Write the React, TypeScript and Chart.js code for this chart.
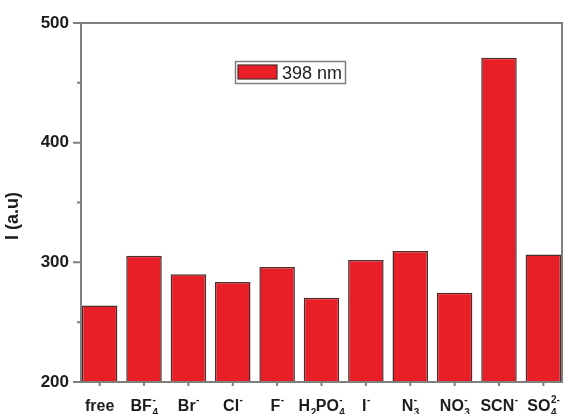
import React, { useEffect, useRef } from "react";
import { Chart, registerables } from "chart.js";

Chart.register(...registerables);

// ---- data ----
type LabelPart = { t: string; sub?: string; sup?: string };
const categories: LabelPart[][] = [
  [{ t: "free" }],
  [{ t: "BF", sub: "4", sup: "-" }],
  [{ t: "Br", sup: "-" }],
  [{ t: "Cl", sup: "-" }],
  [{ t: "F", sup: "-" }],
  [{ t: "H", sub: "2" }, { t: "PO", sub: "4", sup: "-" }],
  [{ t: "I", sup: "-" }],
  [{ t: "N", sub: "3", sup: "-" }],
  [{ t: "NO", sub: "3", sup: "-" }],
  [{ t: "SCN", sup: "-" }],
  [{ t: "SO", sub: "4", sup: "2-" }],
];
const intensity = [264, 305.5, 290, 283.5, 296, 270.5, 302, 309.5, 274.5, 471, 306.5];
const seriesLabel = "398 nm";
const yTitle = "I (a.u)";
const yMin = 200;
const yMax = 500;
const yStep = 100;
const yMinorTicks = [250, 350, 450];

const FONT = "'Liberation Sans', Arial, Helvetica, sans-serif";
const AXIS = "#7f7f7f";
const TEXT = "#1c1c1c";
const RED = "#e81f27";
const BAR_EDGE = "#4e2a2a";

const decorPlugin = {
  id: "decor",
  afterDraw(chart: any) {
    const ctx = chart.ctx as CanvasRenderingContext2D;
    const area = chart.chartArea;
    const xs = chart.scales.x;
    const ys = chart.scales.y;
    ctx.save();

    // frame
    ctx.strokeStyle = AXIS;
    ctx.lineWidth = 2;
    ctx.strokeRect(area.left, area.top, area.right - area.left, area.bottom - area.top);

    // y major ticks
    ctx.beginPath();
    for (let v = yMin; v <= yMax; v += yStep) {
      const y = ys.getPixelForValue(v);
      ctx.moveTo(area.left - 8, y);
      ctx.lineTo(area.left, y);
    }
    // y minor ticks
    for (const v of yMinorTicks) {
      const y = ys.getPixelForValue(v);
      ctx.moveTo(area.left - 4, y);
      ctx.lineTo(area.left, y);
    }
    // x ticks
    for (let i = 0; i < categories.length; i++) {
      const x = xs.getPixelForValue(i);
      ctx.moveTo(x, area.bottom);
      ctx.lineTo(x, area.bottom + 4);
    }
    ctx.stroke();

    // x labels with sub/superscripts
    const mainFont = `bold 16px ${FONT}`;
    const smallFont = `bold 10px ${FONT}`;
    const baseY = area.bottom + 29;
    ctx.fillStyle = TEXT;
    ctx.textBaseline = "alphabetic";
    ctx.textAlign = "left";
    categories.forEach((parts, i) => {
      let total = 0;
      const widths = parts.map((p) => {
        ctx.font = mainFont;
        const wm = ctx.measureText(p.t).width;
        ctx.font = smallFont;
        const ws = Math.max(p.sub ? ctx.measureText(p.sub).width : 0, p.sup ? ctx.measureText(p.sup).width : 0);
        total += wm + ws;
        return [wm, ws];
      });
      let x = xs.getPixelForValue(i) - total / 2;
      parts.forEach((p, k) => {
        ctx.font = mainFont;
        ctx.fillText(p.t, x, baseY);
        x += widths[k][0];
        ctx.font = smallFont;
        if (p.sub) ctx.fillText(p.sub, x + 0.5, baseY + 5);
        if (p.sup) ctx.fillText(p.sup, x + 0.5, baseY - 8);
        x += widths[k][1];
      });
    });

    // y title
    ctx.save();
    ctx.translate(13, 216);
    ctx.rotate(-Math.PI / 2);
    ctx.font = `bold 18px ${FONT}`;
    ctx.textAlign = "center";
    ctx.textBaseline = "middle";
    ctx.fillText(yTitle, 0, 0);
    ctx.restore();

    // legend
    const ds = chart.data.datasets[0];
    ctx.strokeStyle = AXIS;
    ctx.lineWidth = 1.5;
    ctx.strokeRect(235.5, 61.5, 110, 22);
    ctx.fillStyle = RED;
    ctx.fillRect(238, 65, 39, 14);
    ctx.strokeStyle = BAR_EDGE;
    ctx.lineWidth = 1.2;
    ctx.strokeRect(238, 65, 39, 14);
    ctx.fillStyle = TEXT;
    ctx.font = `18px ${FONT}`;
    ctx.textAlign = "left";
    ctx.textBaseline = "alphabetic";
    ctx.fillText(ds.label, 282, 79);

    ctx.restore();
  },
};

export default function App() {
  const ref = useRef<HTMLCanvasElement | null>(null);

  useEffect(() => {
    document.body.style.margin = "0";
    const canvas = ref.current;
    if (!canvas) return;
    const chart = new Chart(canvas, {
      type: "bar",
      data: {
        datasets: [
          {
            label: seriesLabel,
            data: intensity.map((v, i) => ({ x: i, y: v })),
            backgroundColor: RED,
            borderColor: BAR_EDGE,
            borderWidth: 1.5,
            barPercentage: 0.8,
            categoryPercentage: 1.0,
          },
        ],
      },
      options: {
        responsive: false,
        animation: false,
        devicePixelRatio: 1,
        layout: { padding: { top: 23, right: 11, bottom: 32, left: 0 } },
        plugins: {
          legend: { display: false },
          tooltip: { enabled: false },
          title: { display: false },
        },
        scales: {
          x: {
            type: "linear",
            min: -0.42,
            max: 10.42,
            offset: false,
            display: false,
          },
          y: {
            min: yMin,
            max: yMax,
            border: { display: false },
            grid: {
              display: true,
              drawOnChartArea: false,
              drawTicks: true,
              tickLength: 8,
              color: "rgba(0,0,0,0)",
            },
            ticks: {
              stepSize: yStep,
              padding: 4,
              color: TEXT,
              font: { family: FONT, size: 17, weight: "bold" },
            },
            afterFit: (s: any) => {
              s.width = 81;
            },
          },
        },
      },
      plugins: [decorPlugin],
    } as any);
    return () => chart.destroy();
  }, []);

  return (
    <div style={{ width: 573, height: 414, background: "#fff" }}>
      <canvas ref={ref} width={573} height={414} style={{ display: "block", width: 573, height: 414 }} />
    </div>
  );
}
